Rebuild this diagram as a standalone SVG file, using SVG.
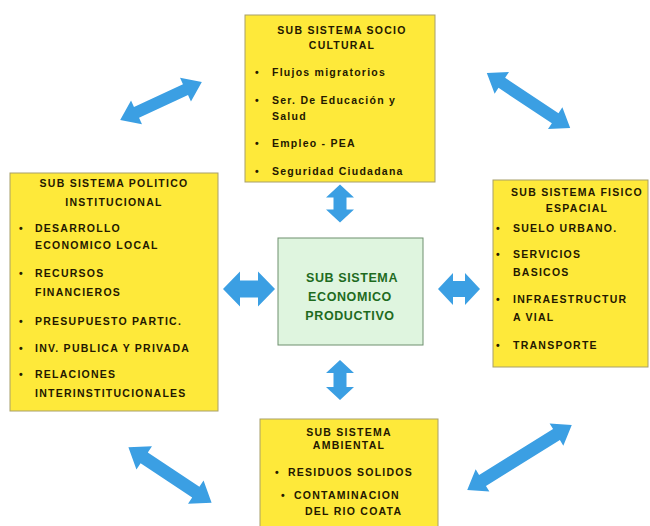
<svg xmlns="http://www.w3.org/2000/svg" width="650" height="526" viewBox="0 0 650 526">
<style>
.box{fill:#fee93a;stroke:#a89f6a;stroke-width:1}
.ctr{fill:#dff5df;stroke:#6e8f6e;stroke-width:1}
.t{font-family:"Liberation Sans",Arial,sans-serif;font-weight:bold;font-size:10.5px;fill:#241800;letter-spacing:1.25px}
.tc{text-anchor:middle}
.g{font-family:"Liberation Sans",Arial,sans-serif;font-weight:bold;font-size:12.5px;fill:#1e6b1e;letter-spacing:0.6px;text-anchor:middle}
.arr{fill:#3b9fe3}
</style>
<rect width="650" height="526" fill="#ffffff"/>
<g id="connectors">
<path class="arr" transform="translate(161,101) rotate(-24.9)" d="M-45,0 L-27,-13 L-27,-6 L27,-6 L27,-13 L45,0 L27,13 L27,6 L-27,6 L-27,13Z"/>
<path class="arr" transform="translate(528.5,100.5) rotate(33.5)" d="M-50,0 L-32,-13 L-32,-6 L32,-6 L32,-13 L50,0 L32,13 L32,6 L-32,6 L-32,13Z"/>
<path class="arr" transform="translate(170,475) rotate(33.7)" d="M-50,0 L-31,-14 L-31,-6.5 L31,-6.5 L31,-14 L50,0 L31,14 L31,6.5 L-31,6.5 L-31,14Z"/>
<path class="arr" transform="translate(519.5,457.5) rotate(-31.8)" d="M-61.5,0 L-43.5,-13 L-43.5,-6.5 L43.5,-6.5 L43.5,-13 L61.5,0 L43.5,13 L43.5,6.5 L-43.5,6.5 L-43.5,13Z"/>
<path class="arr" transform="translate(340,203.5) rotate(90)" d="M-19,0 L-6,-14 L-6,-6.5 L6,-6.5 L6,-14 L19,0 L6,14 L6,6.5 L-6,6.5 L-6,14Z"/>
<path class="arr" transform="translate(340,380) rotate(90)" d="M-20,0 L-7,-14 L-7,-6.5 L7,-6.5 L7,-14 L20,0 L7,14 L7,6.5 L-7,6.5 L-7,14Z"/>
<path class="arr" transform="translate(249,289)" d="M-26,0 L-9,-17.5 L-9,-8.5 L9,-8.5 L9,-17.5 L26,0 L9,17.5 L9,8.5 L-9,8.5 L-9,17.5Z"/>
<path class="arr" transform="translate(459,289)" d="M-21,0 L-6,-16 L-6,-8 L6,-8 L6,-16 L21,0 L6,16 L6,8 L-6,8 L-6,16Z"/>
</g>
<g id="socio-cultural">
<rect class="box" x="245" y="15" width="190" height="167"/>
<text class="t tc" x="342" y="34">SUB SISTEMA SOCIO</text>
<text class="t tc" x="342" y="49">CULTURAL</text>
<text class="t" x="255" y="76">•</text><text class="t" x="272" y="76">Flujos migratorios</text>
<text class="t" x="255" y="104">•</text><text class="t" x="272" y="104">Ser. De Educación y</text>
<text class="t" x="272" y="120">Salud</text>
<text class="t" x="255" y="147">•</text><text class="t" x="272" y="147">Empleo - PEA</text>
<text class="t" x="255" y="175">•</text><text class="t" x="272" y="175">Seguridad Ciudadana</text>
</g>
<g id="politico-institucional">
<rect class="box" x="10" y="173" width="208" height="238"/>
<text class="t tc" x="114" y="187">SUB SISTEMA POLITICO</text>
<text class="t tc" x="114" y="206">INSTITUCIONAL</text>
<text class="t" x="19" y="232">•</text><text class="t" x="35" y="232">DESARROLLO</text>
<text class="t" x="35" y="249">ECONOMICO LOCAL</text>
<text class="t" x="19" y="277">•</text><text class="t" x="35" y="277">RECURSOS</text>
<text class="t" x="35" y="296">FINANCIEROS</text>
<text class="t" x="19" y="325">•</text><text class="t" x="35" y="325">PRESUPUESTO PARTIC.</text>
<text class="t" x="19" y="352">•</text><text class="t" x="35" y="352">INV. PUBLICA Y PRIVADA</text>
<text class="t" x="19" y="378">•</text><text class="t" x="35" y="378">RELACIONES</text>
<text class="t" x="35" y="397">INTERINSTITUCIONALES</text>
</g>
<g id="fisico-espacial">
<rect class="box" x="493" y="180" width="155" height="187"/>
<text class="t tc" x="577" y="196">SUB SISTEMA FISICO</text>
<text class="t tc" x="577" y="212">ESPACIAL</text>
<text class="t" x="496" y="232">•</text><text class="t" x="513" y="232">SUELO URBANO.</text>
<text class="t" x="496" y="258">•</text><text class="t" x="513" y="258">SERVICIOS</text>
<text class="t" x="513" y="276">BASICOS</text>
<text class="t" x="496" y="303">•</text><text class="t" x="513" y="303">INFRAESTRUCTUR</text>
<text class="t" x="513" y="321">A VIAL</text>
<text class="t" x="496" y="349">•</text><text class="t" x="513" y="349">TRANSPORTE</text>
</g>
<g id="ambiental">
<rect class="box" x="260" y="419" width="178" height="112"/>
<text class="t tc" x="349" y="436">SUB SISTEMA</text>
<text class="t tc" x="349" y="449">AMBIENTAL</text>
<text class="t" x="275" y="476">•</text><text class="t" x="288" y="476">RESIDUOS SOLIDOS</text>
<text class="t" x="281" y="499">•</text><text class="t" x="294" y="499">CONTAMINACION</text>
<text class="t" x="305" y="515">DEL RIO COATA</text>
</g>
<g id="economico-productivo">
<rect class="ctr" x="278" y="238" width="145" height="107"/>
<text class="g" x="352" y="282">SUB SISTEMA</text>
<text class="g" x="350" y="301">ECONOMICO</text>
<text class="g" x="350" y="320">PRODUCTIVO</text>
</g>
</svg>
